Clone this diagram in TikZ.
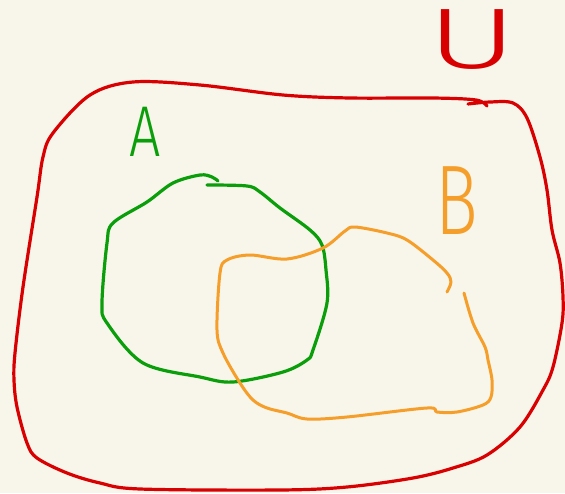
\documentclass[tikz,border=0pt]{standalone}
\usepackage{fontspec}
\usepackage{tikz}
\usetikzlibrary{positioning}
\newfontfamily\handfont{Fira Sans Light}
\definecolor{paper}{HTML}{F8F6EB}
\definecolor{univ}{HTML}{D80000}
\definecolor{seta}{HTML}{0A9E0A}
\definecolor{setb}{HTML}{F59E2A}

\begin{document}
\begin{tikzpicture}[x=1pt,y=-1pt,line cap=round,line join=round,
  pen/.style={line width=3.2pt},
  letter/.style={inner sep=0pt,font=\handfont}]
  \useasboundingbox (0,0) rectangle (565,493);
  \fill[paper] (0,0) rectangle (565,493);
  % universe
  \draw[pen,univ] plot[smooth,tension=0.55] coordinates {(468,104) (490,102) (513,103) (527,118) (540,157)
    (547,190) (552,230) (560,263) (563,297) (562,323) (553,367) (543,390) (520,427) (487,455) (453,468)
    (413,478) (347,487) (280,490) (140,489) (100,483) (67,473) (37,458) (27,443) (17,407) (14,380)
    (15,353) (23,287) (37,197) (43,157) (53,133) (90,95) (133,82) (200,85) (283,95) (350,98) (433,98)
    (476,100) (487,106)};
  \node[letter,text=univ,font=\handfont\fontsize{86}{86}\selectfont,xscale=1.6] (ulabel) at (472,40) {U};
  % set A
  \draw[pen,seta] plot[smooth,tension=0.55] coordinates {(218,181) (212,177) (200,175) (173,183) (147,202)
    (113,223) (107,243) (102,303) (107,323) (143,363) (200,377) (233,382) (283,372) (307,360) (313,350)
    (327,303) (326,270) (322,245) (310,230) (280,208) (260,192) (247,186) (207,185)};
  \node[letter,text=seta,font=\handfont\fontsize{72}{72}\selectfont,xscale=0.77] (alabel) at (145,132) {A};
  % set B
  \draw[pen,setb,line width=3pt] plot[smooth,tension=0.55] coordinates {(447,292) (451,282) (447,273)
    (433,260) (407,240) (387,233) (355,227) (345,231) (323,248) (287,259) (250,255) (227,260) (220,273)
    (217,330) (223,353) (240,383) (253,400) (267,408) (287,413) (307,419) (347,417) (427,408) (437,412)
    (457,412) (483,405) (491,397) (492,380) (488,360) (485,347) (473,323) (464,293)};
  \node[letter,text=setb,font=\handfont\fontsize{99}{99}\selectfont,xscale=0.72] (blabel) at (457,201) {B};
\end{tikzpicture}
\end{document}
